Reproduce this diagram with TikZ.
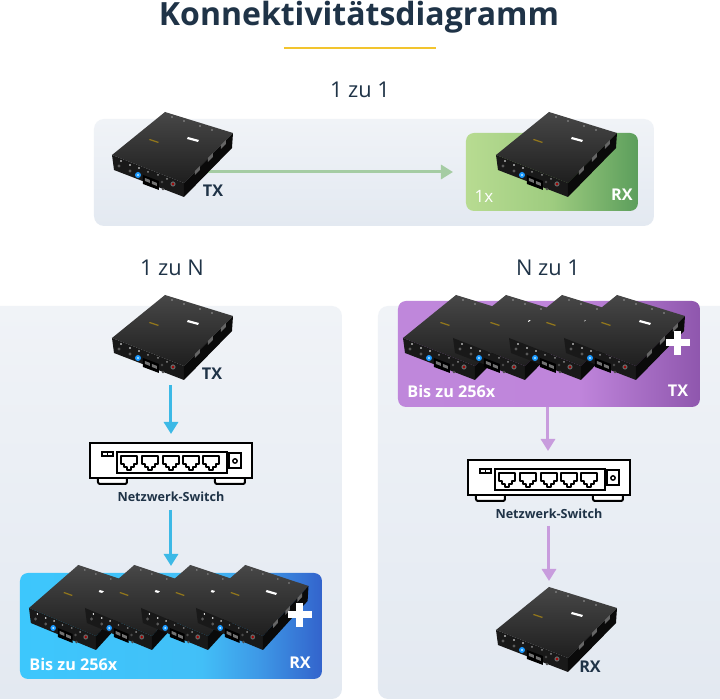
\documentclass[tikz,border=0pt]{standalone}
\usepackage{fontspec}
\setmainfont{Open Sans}
\usetikzlibrary{arrows.meta}
\definecolor{navy}{HTML}{1F3347}
\definecolor{gold}{HTML}{F2C42E}
\definecolor{panelhi}{HTML}{F0F3F7}
\definecolor{panello}{HTML}{E3E9F1}
\definecolor{greenarrow}{HTML}{A5CCA3}
\definecolor{bluearrow}{HTML}{3CB9E6}
\definecolor{purplearrow}{HTML}{C89CDD}
\pgfdeclarehorizontalshading{greenband}{100bp}{rgb(0bp)=(0.72,0.86,0.57); rgb(25bp)=(0.72,0.86,0.57); rgb(50bp)=(0.62,0.80,0.50); rgb(75bp)=(0.36,0.62,0.36); rgb(100bp)=(0.36,0.62,0.36)}
\pgfdeclarehorizontalshading{blueband}{100bp}{rgb(0bp)=(0.24,0.78,0.99); rgb(25bp)=(0.24,0.78,0.99); rgb(55bp)=(0.26,0.75,0.97); rgb(65bp)=(0.24,0.59,0.90); rgb(75bp)=(0.20,0.39,0.80); rgb(100bp)=(0.20,0.39,0.80)}
\pgfdeclarehorizontalshading{purpleband}{100bp}{rgb(0bp)=(0.75,0.53,0.86); rgb(25bp)=(0.75,0.53,0.86); rgb(55bp)=(0.75,0.52,0.86); rgb(75bp)=(0.56,0.34,0.68); rgb(100bp)=(0.56,0.34,0.68)}
\tikzset{
  panel/.style={rounded corners=5pt,top color=panelhi,bottom color=panello,draw=none},
  band/.style={rounded corners=4pt,draw=none},
  flow/.style={-{Triangle[length=6pt,width=7pt]},line width=1.5pt},
  heading/.style={inner sep=0pt,text=navy,font=\fontsize{10.9}{13}\selectfont},
  tag/.style={inner sep=0pt,font=\fontsize{8.1}{10}\selectfont\bfseries},
  swlabel/.style={inner sep=0pt,text=navy,font=\fontsize{6.3}{8}\selectfont\bfseries},
  plus/.style={white,line width=3.5pt},
  device/.pic={
    \shade[top color=black!72,bottom color=black!88] (0,0) -- (53,-43) -- (121,-22) -- (72,28) -- cycle;
    \fill[black!90] (0,0) -- (72,28) -- (72,42) -- (2,15) -- cycle;
    \fill[black!96] (72,28) -- (121,-22) -- (120,-7) -- (72,42) -- cycle;
    \fill[gold!60!black] (38,-16) -- (47,-13) -- (46,-12) -- (37,-15) -- cycle;
    \fill[white] (76,-18) -- (87,-15) -- (86,-13) -- (75,-16) -- cycle;
    \foreach \tx/\ty in {9/6,18/10,27/13} \fill[white] (\tx,\ty) circle [radius=0.9];
    \foreach \tx/\ty in {36/17,46/20,55/24} \fill[black!45] (\tx,\ty) circle [radius=1];
    \foreach \tx/\ty in {7/11,18/16} \fill[black!65] (\tx,\ty) circle [radius=1.6];
    \fill[black!70] (50,27) circle [radius=1.4];
    \fill[black!70] (51,34) circle [radius=1.4];
    \fill[blue!45!cyan!90] (26,20) circle [radius=3];
    \fill[white!75!cyan] (26,20) circle [radius=1.2];
    \fill[black] (31,20) -- (47,26) -- (47,35) -- (31,29) -- cycle;
    \fill[black!55] (33,23) -- (38,25) -- (38,28) -- (33,26) -- cycle;
    \fill[black!55] (40,26) -- (45,28) -- (45,31) -- (40,29) -- cycle;
    \fill[black!60] (61,29) circle [radius=2.6];
    \fill[red!65!black] (61,29) circle [radius=1.4];
    \foreach \tx/\ty in {83/16,96/3,109/-10} {
      \fill[black!60] (\tx,\ty) -- ++(5,-5) -- ++(0,4) -- ++(-5,5) -- cycle;
    }
    \foreach \tx/\ty in {60/-38,72/-34,88/-29,100/-25} \fill[black!40] (\tx,\ty) circle [radius=0.8];
  },
  netswitch/.pic={
    \draw[line width=1pt,fill=white,rounded corners=1pt] (8,35) -- (8,41) -- (37,41) -- (37,35);
    \draw[line width=1pt,fill=white,rounded corners=1pt] (125,35) -- (125,41) -- (155,41) -- (155,35);
    \draw[line width=1pt,fill=white] (0,0) rectangle (162,35);
    \draw[line width=1pt] (27,9) rectangle (137,30);
    \draw[line width=0.7pt] (12,9) rectangle (23,13);
    \draw[line width=0.7pt] (17.5,9) -- (17.5,13);
    \draw[line width=0.7pt] (139,10) rectangle (151,25);
    \draw[line width=0.7pt] (145,18) circle [radius=2.2];
    \foreach \px in {39,60,81,101,121} {
      \begin{scope}[shift={(\px,13)}]
        \draw[line width=0.8pt,line join=round] (-8,0) -- (8,0) -- (8,8) -- (5,8) -- (5,11) -- (2,11) -- (2,14) -- (-2,14) -- (-2,11) -- (-5,11) -- (-5,8) -- (-8,8) -- cycle;
      \end{scope}
    }
  }
}
\begin{document}
\begin{tikzpicture}[x=0.5pt,y=-0.5pt]
  \useasboundingbox (0,0) rectangle (720,700);
  \fill[white] (0,0) rectangle (720,700);

  \node[inner sep=0pt,text=navy,font=\fontsize{16}{20}\selectfont\bfseries] (title) at (359,17) {Konnektivitätsdiagramm};
  \draw[gold,line width=1pt] (284,48) -- (436,48);

  \node[heading] (oneone) at (360,90) {1 zu 1};
  \node[heading] (onen) at (172,268) {1 zu N};
  \node[heading] (none) at (548,268) {N zu 1};

  \shade[panel] (94,119) rectangle (654,226);
  \shade[panel] (-20,306) rectangle (342,699);
  \shade[panel] (378,306) rectangle (740,699);

  \shade[band,shading=greenband] (466,133) rectangle (638,211);
  \shade[band,shading=blueband] (20,573) rectangle (322,679);
  \shade[band,shading=purpleband] (398,301) rectangle (700,407);

  \coordinate (txa) at (200,172);
  \coordinate (rxa) at (453,172);
  \draw[flow,greenarrow] (txa) -- (rxa);

  \pic at (112,155) {device};
  \pic at (496,155) {device};
  \node[tag,text=navy] (txalabel) at (213,191) {TX};
  \node[tag,text=white,font=\fontsize{8.5}{10}\selectfont] (onex) at (484,196) {1x};
  \node[tag,text=white] (rxalabel) at (622,195) {RX};

  \pic at (112,338) {device};
  \node[tag,text=navy] (txb) at (212,374) {TX};
  \pic at (90,443) {netswitch};
  \node[swlabel] (swb) at (171,497) {Netzwerk-Switch};
  \coordinate (txbout) at (171,385);
  \coordinate (swbin) at (171,434);
  \coordinate (swbout) at (171,510);
  \coordinate (rxbin) at (171,566);
  \draw[flow,bluearrow] (txbout) -- (swbin);
  \draw[flow,bluearrow] (swbout) -- (rxbin);
  \foreach \dx in {29,85,141,196} {
    \pic[xscale=0.93] at (\dx,608) {device};
  }
  \draw[plus] (288,615) -- (312,615);
  \draw[plus] (300,603) -- (300,627);
  \node[tag,text=white,anchor=west] (bisb) at (29,664) {Bis zu 256x};
  \node[tag,text=white] (rxb) at (300,663) {RX};

  \foreach \dx in {403,453,509,564} {
    \pic at (\dx,338) {device};
  }
  \draw[plus] (666,343) -- (690,343);
  \draw[plus] (678,331) -- (678,355);
  \node[tag,text=white,anchor=west] (bisc) at (407,391) {Bis zu 256x};
  \node[tag,text=white] (txc) at (678,391) {TX};
  \pic at (468,460) {netswitch};
  \node[swlabel] (swc) at (549,514) {Netzwerk-Switch};
  \coordinate (txcout) at (548,407);
  \coordinate (swcin) at (548,451);
  \coordinate (swcout) at (549,526);
  \coordinate (rxcin) at (549,581);
  \draw[flow,purplearrow] (txcout) -- (swcin);
  \draw[flow,purplearrow] (swcout) -- (rxcin);
  \pic at (496,630) {device};
  \node[tag,text=navy] (rxc) at (590,667) {RX};
\end{tikzpicture}
\end{document}
